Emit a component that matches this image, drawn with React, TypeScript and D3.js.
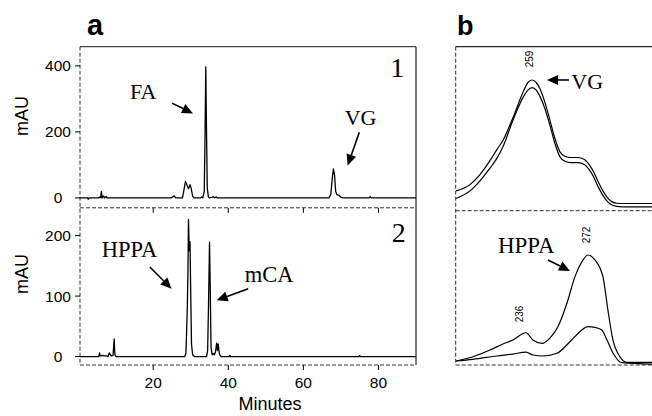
import React from "react";
import * as d3 from "d3";

// ---------- DATA ----------
// Panel a, trace 1: [minutes, mAU]
const trace1: [number, number][] = [
  [0.5, 0], [2.5, 0], [2.7, -4], [2.9, 0], [5.5, 0], [5.8, 3], [6.0, 0], [6.2, 20], [6.4, 0],
  [6.8, 6], [7.0, 0], [7.5, 4], [7.7, 0], [24.8, 0], [25.3, 4], [25.6, 6], [26, 0], [27.8, 0],
  [28.2, 25], [28.6, 50], [29.0, 38], [29.4, 28], [29.8, 40], [30.1, 30], [30.5, 5], [30.9, 0],
  [32.6, 0], [32.9, 3], [33.2, 0], [33.6, 20], [33.8, 180], [34.0, 397], [34.2, 200], [34.4, 30],
  [34.7, 3], [35, 0], [35.8, 2], [36.0, 4], [36.3, 0], [36.8, 3], [37.1, 0], [37.5, 0],
  [66.8, 0], [67.3, 10], [67.7, 60], [68.0, 88], [68.3, 70], [68.6, 20], [68.9, 10], [69.5, 8],
  [70.0, 2], [70.5, 0], [77.5, 0], [77.8, 4], [78.1, 0], [90, 0],
];
// Panel a, trace 2
const trace2: [number, number][] = [
  [0.5, 0], [5.5, 0], [5.7, 6], [5.9, 1], [6.5, 2], [7.0, 1], [7.5, 1], [8.0, 0], [8.3, 6],
  [8.5, 4], [8.8, 1], [9.3, 2], [9.6, 29], [9.8, 3], [10.1, 0], [28.4, 0], [28.7, 5], [28.9, 40],
  [29.1, 85], [29.25, 140], [29.4, 227], [29.6, 175], [29.8, 190], [30.0, 100], [30.2, 20],
  [30.5, 3], [31, 0], [34.2, 0], [34.5, 10], [34.75, 90], [35.0, 189], [35.2, 110], [35.4, 15],
  [35.7, 3], [36.0, 5], [36.3, 3], [36.6, 8], [36.9, 22], [37.1, 10], [37.3, 21], [37.6, 5],
  [38, 0], [40.2, 0], [40.4, 2], [40.6, 0], [74.8, 0], [75, 1.5], [75.2, 0], [90, 0],
];
const xTicksA = [20, 40, 60, 80];
const yTicks1 = [0, 200, 400];
const yTicks2 = [0, 100, 200];

// Panel b, spectra: [nm, relative absorbance]
const specVG1: [number, number][] = [
  [200.2, 0.12], [207.7, 0.17], [213.1, 0.25], [218.5, 0.36], [222.3, 0.45], [225.5, 0.52],
  [230.9, 0.7], [236.3, 0.9], [239, 0.98], [241.2, 1.0], [243.5, 0.98], [245.5, 0.93], [248, 0.83],
  [250.9, 0.68], [253.5, 0.54], [256.3, 0.43], [259, 0.395], [262, 0.385], [266, 0.385],
  [269.5, 0.37], [272, 0.33], [274.5, 0.27], [277, 0.19], [279.5, 0.12], [282, 0.065],
  [284.3, 0.035], [287, 0.022], [290, 0.02], [306, 0.02],
];
const specVG2: [number, number][] = [
  [200.2, 0.06], [207.7, 0.12], [213.1, 0.2], [218.5, 0.3], [222.3, 0.38], [225.5, 0.47],
  [230.9, 0.68], [236.3, 0.86], [239, 0.92], [241.2, 0.94], [243.5, 0.92], [245.5, 0.87], [248, 0.78],
  [250.9, 0.64], [253.5, 0.5], [256.3, 0.39], [259, 0.355], [262, 0.345], [266, 0.345],
  [269.5, 0.33], [272, 0.29], [274.5, 0.23], [277, 0.15], [279.5, 0.085], [282, 0.035],
  [284.3, 0.008], [287, -0.003], [290, -0.006], [306, -0.006],
];
const specHPPA1: [number, number][] = [
  [200.2, 0.0185], [209.3, 0.058], [218.5, 0.12], [225.5, 0.176], [230.9, 0.213], [237.9, 0.28],
  [241.7, 0.213], [246.6, 0.182], [250.9, 0.231], [255.2, 0.336], [260.1, 0.556], [264.4, 0.8],
  [268.2, 0.938], [271.4, 1.0], [275.2, 0.954], [279.5, 0.8], [282.2, 0.49], [284.9, 0.213],
  [288.7, 0.058], [292.5, 0.006], [306, 0.005],
];
const specHPPA2: [number, number][] = [
  [200.2, 0.0185], [209.3, 0.034], [222.3, 0.065], [230.9, 0.083], [237.9, 0.1], [241.7, 0.074],
  [247.1, 0.065], [254.7, 0.09], [261.7, 0.197], [267.1, 0.29], [271.4, 0.336], [275.2, 0.33],
  [278.9, 0.305], [281.7, 0.213], [284.9, 0.093], [289.8, 0.003], [306, -0.01],
];

// ---------- LAYOUT ----------
const W = 652, H = 416;
const aL = 80, aR = 416;
const a1T = 46.7, a1B = 207.8, a2B = 365;
const bL = 455.7, bR = 652;
const b1T = 46.7, b1B = 210.7, b2B = 365;

const SANS = "'Liberation Sans', Arial, Helvetica, sans-serif";
const SERIF = "'Liberation Serif', 'Times New Roman', serif";

const xA = d3.scaleLinear().domain([0.5, 90]).range([aL, aR]);
const y1 = d3.scaleLinear().domain([-30, 458]).range([a1B, a1T]);
const y2 = d3.scaleLinear().domain([-14, 246]).range([a2B, a1B]);
const xB = d3.scaleLinear().domain([200, 306]).range([bL, bR]);
const yB1 = d3.scaleLinear().domain([-0.037, 1.264]).range([b1B, b1T]);
const yB2 = d3.scaleLinear().domain([-0.0185, 1.41]).range([b2B, b1B]);

function Arrow({ x1, y1: yy1, x2, y2: yy2 }: { x1: number; y1: number; x2: number; y2: number }) {
  const ang = Math.atan2(yy2 - yy1, x2 - x1);
  const L = 11, Wd = 5;
  const bx = x2 - L * Math.cos(ang), by = yy2 - L * Math.sin(ang);
  const px = -Math.sin(ang) * Wd, py = Math.cos(ang) * Wd;
  return (
    <g>
      <line x1={x1} y1={yy1} x2={bx} y2={by} stroke="#000" strokeWidth={1.6} />
      <polygon points={`${x2},${yy2} ${bx + px},${by + py} ${bx - px},${by - py}`} fill="#000" />
    </g>
  );
}

export default function App() {
  const lineA1 = d3.line<[number, number]>().x(d => xA(d[0])).y(d => y1(d[1]));
  const lineA2 = d3.line<[number, number]>().x(d => xA(d[0])).y(d => y2(d[1]));
  const lineB1 = d3.line<[number, number]>().x(d => xB(d[0])).y(d => yB1(d[1])).curve(d3.curveMonotoneX);
  const lineB2 = d3.line<[number, number]>().x(d => xB(d[0])).y(d => yB2(d[1])).curve(d3.curveMonotoneX);
  const dash = "4,2";
  const dashCol = "#333";
  return (
    <svg width={W} height={H} style={{ position: "absolute", left: 0, top: 0, background: "#fff" }}>
      <defs>
        <clipPath id="clipB"><rect x={bL} y={b1T} width={bR - bL} height={b2B - b1T} /></clipPath>
      </defs>
      {/* panel letters */}
      <text x={87} y={35} fontFamily={SANS} fontWeight="bold" fontSize={29}>a</text>
      <text x={457} y={35} fontFamily={SANS} fontWeight="bold" fontSize={27}>b</text>

      {/* ---- Panel a frame ---- */}
      <line x1={aL} y1={a1T} x2={aR} y2={a1T} stroke="#444" strokeWidth={1.3} />
      <line x1={aR} y1={a1T} x2={aR} y2={a2B} stroke="#222" strokeWidth={1.2} />
      <line x1={aL} y1={a1T} x2={aL} y2={a2B} stroke={dashCol} strokeWidth={1} strokeDasharray={dash} />
      <line x1={aL} y1={a1B} x2={aR} y2={a1B} stroke={dashCol} strokeWidth={1} strokeDasharray={dash} />
      <line x1={aL} y1={a2B} x2={aR} y2={a2B} stroke={dashCol} strokeWidth={1} strokeDasharray={dash} />

      {/* y ticks */}
      {yTicks1.map(t => (
        <g key={"y1" + t}>
          <line x1={aL - 5} x2={aL} y1={y1(t)} y2={y1(t)} stroke="#000" />
          <text x={58} y={y1(t) + 5.5} textAnchor="middle" fontFamily={SANS} fontSize={15.5}>{t}</text>
        </g>
      ))}
      {yTicks2.map(t => (
        <g key={"y2" + t}>
          <line x1={aL - 5} x2={aL} y1={y2(t)} y2={y2(t)} stroke="#000" />
          <text x={58} y={y2(t) + 5.5} textAnchor="middle" fontFamily={SANS} fontSize={15.5}>{t}</text>
        </g>
      ))}
      {/* x ticks */}
      {xTicksA.map(t => (
        <g key={"x" + t}>
          <line x1={xA(t)} x2={xA(t)} y1={a2B} y2={a2B + 5} stroke="#000" />
          <line x1={xA(t)} x2={xA(t)} y1={a1B} y2={a1B + 5} stroke="#000" />
          <text x={xA(t)} y={388} textAnchor="middle" fontFamily={SANS} fontSize={15.5}>{t}</text>
        </g>
      ))}
      <text x={270} y={410} textAnchor="middle" fontFamily={SANS} fontSize={18}>Minutes</text>
      <text transform={`translate(28,116) rotate(-90)`} textAnchor="middle" fontFamily={SANS} fontSize={18}>mAU</text>
      <text transform={`translate(28,274) rotate(-90)`} textAnchor="middle" fontFamily={SANS} fontSize={18}>mAU</text>

      {/* traces */}
      <path d={lineA1(trace1) || ""} fill="none" stroke="#000" strokeWidth={1.3} strokeLinejoin="round" />
      <path d={lineA2(trace2) || ""} fill="none" stroke="#000" strokeWidth={1.3} strokeLinejoin="round" />

      {/* annotations a */}
      <text x={xA(13.8)} y={y1(299)} fontFamily={SERIF} fontSize={22}>FA</text>
      <Arrow x1={xA(25)} y1={y1(287)} x2={xA(30.6)} y2={y1(256)} />
      <text x={xA(71.0)} y={y1(222)} fontFamily={SERIF} fontSize={22}>VG</text>
      <Arrow x1={xA(74.9)} y1={y1(199)} x2={xA(71.8)} y2={y1(98)} />
      <text x={xA(86.9)} y={y1(366)} textAnchor="end" fontFamily={SERIF} fontSize={28}>1</text>

      <text x={xA(6.3)} y={y2(165)} fontFamily={SERIF} fontSize={22.5}>HPPA</text>
      <Arrow x1={xA(19.1)} y1={y2(148)} x2={xA(24.9)} y2={y2(112)} />
      <text x={xA(44.4)} y={y2(124)} fontFamily={SERIF} fontSize={22.5}>mCA</text>
      <Arrow x1={xA(45.3)} y1={y2(112)} x2={xA(36.9)} y2={y2(93)} />
      <text x={xA(87.3)} y={y2(189)} textAnchor="end" fontFamily={SERIF} fontSize={28}>2</text>

      {/* ---- Panel b frame ---- */}
      <line x1={bL} y1={b1T} x2={bR} y2={b1T} stroke="#222" strokeWidth={1.3} />
      <line x1={bL} y1={b1T} x2={bL} y2={b2B} stroke={dashCol} strokeWidth={1} strokeDasharray={dash} />
      <line x1={bL} y1={b1B} x2={bR} y2={b1B} stroke={dashCol} strokeWidth={1} strokeDasharray={dash} />
      <line x1={bL} y1={b2B} x2={bR} y2={b2B} stroke={dashCol} strokeWidth={1} strokeDasharray={dash} />

      <g clipPath="url(#clipB)">
        <path d={lineB1(specVG1) || ""} fill="none" stroke="#000" strokeWidth={1.2} />
        <path d={lineB1(specVG2) || ""} fill="none" stroke="#000" strokeWidth={1.2} />
        <path d={lineB2(specHPPA1) || ""} fill="none" stroke="#000" strokeWidth={1.2} />
        <path d={lineB2(specHPPA2) || ""} fill="none" stroke="#000" strokeWidth={1.2} />
      </g>

      <text transform={`translate(${xB(240.1) + 3.5},${yB1(1.167)}) rotate(-90)`} textAnchor="middle" fontFamily={SANS} fontSize={10}>259</text>
      <text x={xB(262.4)} y={yB1(0.93)} fontFamily={SERIF} fontSize={22}>VG</text>
      <Arrow x1={xB(261.2)} y1={yB1(1.0)} x2={xB(249.3)} y2={yB1(1.0)} />

      <text transform={`translate(${xB(234.2) + 3.5},${yB2(0.454)}) rotate(-90)`} textAnchor="middle" fontFamily={SANS} fontSize={10}>236</text>
      <text transform={`translate(${xB(270.9) + 3.5},${yB2(1.185)}) rotate(-90)`} textAnchor="middle" fontFamily={SANS} fontSize={10}>272</text>
      <text x={xB(222.8)} y={yB2(1.02)} fontFamily={SERIF} fontSize={23}>HPPA</text>
      <Arrow x1={xB(249.8)} y1={yB2(0.954)} x2={xB(261.7)} y2={yB2(0.852)} />
    </svg>
  );
}
